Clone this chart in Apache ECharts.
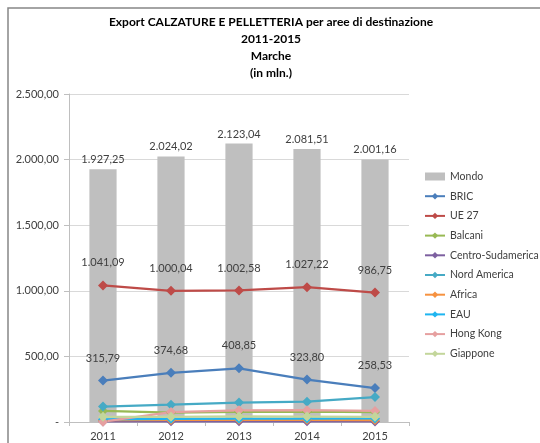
<!DOCTYPE html>
<html>
<head>
<meta charset="utf-8">
<script src="https://cdn.jsdelivr.net/npm/echarts@6/dist/echarts.min.js"></script>
<style>
  html, body { margin: 0; padding: 0; background: #fff; }
  #chart { width: 540px; height: 443px; }
</style>
</head>
<body>
<div id="chart"></div>
<script>
// Export of footwear and leather goods from Marche, by destination (million €)
const years = ['2011', '2012', '2013', '2014', '2015'];

const mondo = [1927.25, 2024.02, 2123.04, 2081.51, 2001.16];
const bric = [315.79, 374.68, 408.85, 323.80, 258.53];
const ue27 = [1041.09, 1000.04, 1002.58, 1027.22, 986.75];
const balcani = [84, 72, 78, 80, 76];
const centroSudamerica = [4, 5, 5, 5, 4];
const nordAmerica = [118, 132, 148, 155, 190];
const africa = [14, 16, 17, 17, 15];
const eau = [20, 24, 25, 26, 27];
const hongKong = [2, 76, 89, 90, 84];
const giappone = [40, 40, 42, 41, 40];

const yTicks = [0, 500, 1000, 1500, 2000, 2500];

const FONT = 'Lato, "Noto Sans", sans-serif';

// Italian number format: 1.927,25 ; zero shown as "-"
function itFmt(v) {
  if (v === 0) return '-';
  const parts = v.toFixed(2).split('.');
  parts[0] = parts[0].replace(/\B(?=(\d{3})+(?!\d))/g, '.');
  return parts[0] + ',' + parts[1];
}

function lineSeries(name, data, color, withLabels) {
  return {
    name: name,
    type: 'line',
    data: data,
    symbol: 'diamond',
    symbolSize: 10,
    lineStyle: { width: 2.25, color: color },
    itemStyle: { color: color },
    z: 3,
    label: withLabels ? {
      show: true,
      position: 'top',
      distance: 12,
      fontFamily: FONT,
      fontSize: 11,
      color: '#404040',
      formatter: p => itFmt(p.value)
    } : { show: false }
  };
}

const chart = echarts.init(document.getElementById('chart'), null, { renderer: 'canvas' });

chart.setOption({
  animation: false,
  backgroundColor: '#fff',
  graphic: [{
    type: 'rect',
    shape: { x: 8, y: 8, width: 560, height: 460 },
    style: { fill: 'none', stroke: '#868686', lineWidth: 1.5 },
    silent: true
  }],
  title: {
    text: 'Export CALZATURE E PELLETTERIA per aree di destinazione\n2011-2015\nMarche\n(in mln.)',
    left: 266,
    textAlign: 'center',
    top: 9,
    textStyle: {
      fontFamily: FONT,
      fontSize: 12,
      fontWeight: 'bold',
      color: '#000',
      lineHeight: 17
    }
  },
  legend: {
    orient: 'vertical',
    left: 424,
    top: 171,
    padding: 0,
    itemWidth: 20,
    itemHeight: 8,
    itemGap: 8.7,
    textStyle: { fontFamily: FONT, fontSize: 10.5, color: '#404040' },
    data: [
      { name: 'Mondo', icon: 'rect' },
      'BRIC', 'UE 27', 'Balcani', 'Centro-Sudamerica', 'Nord America',
      'Africa', 'EAU', 'Hong Kong', 'Giappone'
    ]
  },
  grid: { left: 69, right: 131, top: 94, bottom: 21 },
  xAxis: {
    type: 'category',
    data: years,
    boundaryGap: true,
    axisLine: { show: true, lineStyle: { color: '#bfbfbf' } },
    axisTick: { show: true, alignWithLabel: false, length: 4, lineStyle: { color: '#bfbfbf' } },
    axisLabel: { fontFamily: FONT, fontSize: 11, color: '#404040', margin: 9 }
  },
  yAxis: {
    type: 'value',
    min: 0,
    max: 2500,
    interval: 500,
    axisLine: { show: true, lineStyle: { color: '#bfbfbf' } },
    axisTick: { show: true, length: 5, lineStyle: { color: '#bfbfbf' } },
    axisLabel: {
      fontFamily: FONT, fontSize: 11, color: '#404040', margin: 10,
      formatter: v => yTicks.includes(v) ? itFmt(v) : ''
    },
    splitLine: { show: true, lineStyle: { color: '#d9d9d9' } }
  },
  series: [
    {
      name: 'Mondo',
      type: 'bar',
      data: mondo,
      barWidth: '40%',
      itemStyle: { color: '#bfbfbf' },
      z: 1,
      label: {
        show: true,
        position: 'top',
        distance: 4,
        fontFamily: FONT,
        fontSize: 11,
        color: '#404040',
        formatter: p => itFmt(p.value)
      }
    },
    lineSeries('BRIC', bric, '#4a7ebb', true),
    lineSeries('UE 27', ue27, '#be4b48', true),
    lineSeries('Balcani', balcani, '#98b954', false),
    lineSeries('Centro-Sudamerica', centroSudamerica, '#7d60a0', false),
    lineSeries('Nord America', nordAmerica, '#46aac5', false),
    lineSeries('Africa', africa, '#f69240', false),
    lineSeries('EAU', eau, '#1fb5f0', false),
    lineSeries('Hong Kong', hongKong, '#e6a0a0', false),
    lineSeries('Giappone', giappone, '#c3d69b', false)
  ]
});
</script>
</body>
</html>
